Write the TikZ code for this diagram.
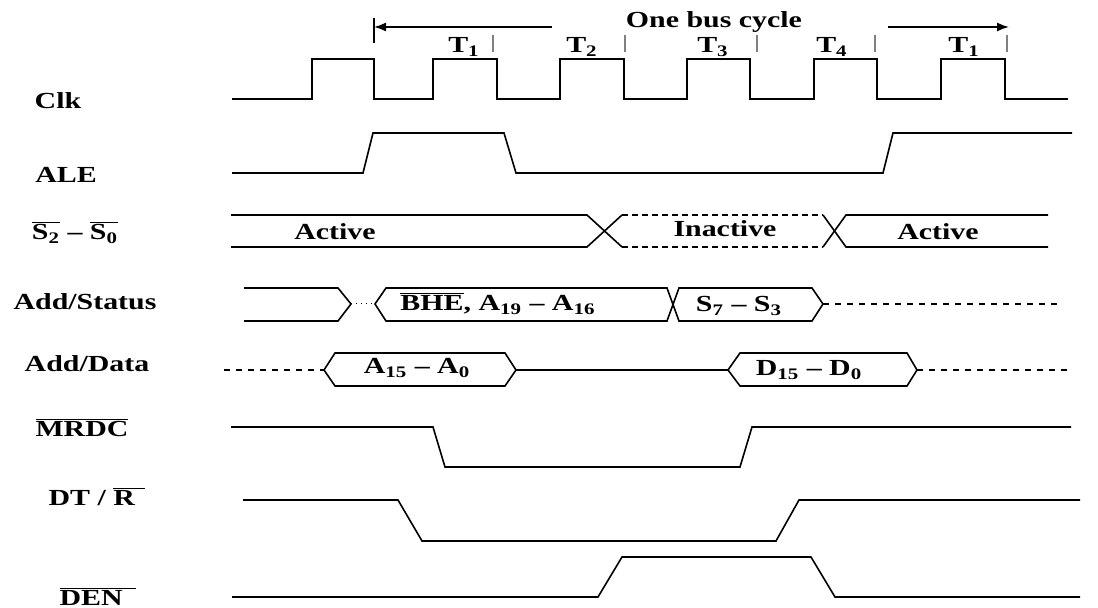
\documentclass[tikz,border=0pt]{standalone}
\usepackage{fontspec}
\setmainfont[FakeStretch=1.3]{Liberation Serif}
\usepackage{tikz}
\usetikzlibrary{arrows.meta}

\newcommand{\ovl}[1]{$\overline{\mbox{#1}}$}

\begin{document}
\begin{tikzpicture}[x=0.5pt, y=-0.5pt, line width=0.8pt,
  every node/.style={font=\bfseries\fontsize{11.5}{13}\selectfont, inner sep=0pt, anchor=base}]
\useasboundingbox (0,0) rectangle (1098,608);

% signal names
\node (clk) at (58,109) {Clk};
\node (ale) at (66,183) {ALE};
\node (sts) at (75,240) {\ovl{S\textsubscript{2}} -- \ovl{S\textsubscript{0}}};
\node (addst) at (85,310) {Add/Status};
\node (adddat) at (87,372) {Add/Data};
\node (mrdc) at (82,437) {\ovl{MRDC}};
\node (dtr) at (97,506) {DT / \ovl{R\hspace{.45em}}};
\node (den) at (98,606) {\ovl{DEN\hspace{.6em}}};

% bus cycle
\draw (374,18) -- (374,43);
\draw[-{Latex[length=6pt,width=4.5pt]}] (552,27) -- (374,27);
\draw[-{Latex[length=6pt,width=4.5pt]}] (888,27) -- (1009,27);
\node (cyc) at (714,28) {One bus cycle};
\draw[gray, line width=0.6pt] (493,35) -- (493,52);
\draw[gray, line width=0.6pt] (625,35) -- (625,52);
\draw[gray, line width=0.6pt] (757,35) -- (757,52);
\draw[gray, line width=0.6pt] (875,35) -- (875,52);
\draw[gray, line width=0.6pt] (1007,35) -- (1007,52);
\node (t1) at (464,53) {T\textsubscript{1}};
\node (t2) at (582,53) {T\textsubscript{2}};
\node (t3) at (713,53) {T\textsubscript{3}};
\node (t4) at (832,53) {T\textsubscript{4}};
\node (t1b) at (964,53) {T\textsubscript{1}};

% Clk
\draw (232,99) -- (312,99) -- (312,59) -- (374,59) -- (374,99) -- (433,99) -- (433,59) -- (497,59) -- (497,99) -- (560,99) -- (560,59) -- (624,59) -- (624,99) -- (687,99) -- (687,59) -- (750,59) -- (750,99) -- (814,99) -- (814,59) -- (877,59) -- (877,99) -- (941,99) -- (941,59) -- (1005,59) -- (1005,99) -- (1068,99);

% ALE
\draw (232,173) -- (363,173) -- (373,133) -- (504,133) -- (516,173) -- (883,173) -- (893,133) -- (1072,133);

% S2 - S0
\draw (231,215) -- (587,215) -- (622,247);
\draw (231,247) -- (587,247) -- (622,215);
\draw[dash pattern=on 3pt off 2pt] (622,215) -- (823,215);
\draw[dash pattern=on 3pt off 2pt] (622,247) -- (823,247);
\draw (823,215) -- (846,247) -- (1048,247);
\draw (823,247) -- (846,215) -- (1048,215);
\node (act1) at (335,240) {Active};
\node (inact) at (725,237) {Inactive};
\node (act2) at (938,240) {Active};

% Add/Status
\draw (244,288) -- (338,288) -- (351,304) -- (338,321) -- (244,321);
\draw[dotted, line width=0.5pt] (351,304) -- (375,304);
\draw (375,304) -- (386,288) -- (667,288) -- (679,321) -- (812,321) -- (823,304) -- (812,288) -- (679,288) -- (667,321) -- (386,321) -- cycle;
\draw[dashed] (823,304) -- (1060,304);
\node (bhe) at (498,311) {\ovl{BHE}, A\textsubscript{19} -- A\textsubscript{16}};
\node (sst) at (739,312) {S\textsubscript{7} -- S\textsubscript{3}};

% Add/Data
\draw[dashed] (224,370) -- (324,370);
\draw (324,370) -- (335,353) -- (505,353) -- (516,370) -- (505,386) -- (335,386) -- cycle;
\draw (516,370) -- (728,370);
\draw (728,370) -- (740,353) -- (907,353) -- (917,370) -- (907,386) -- (740,386) -- cycle;
\draw[dashed] (917,370) -- (1072,370);
\node (aad) at (417,374) {A\textsubscript{15} -- A\textsubscript{0}};
\node (dd) at (809,376) {D\textsubscript{15} -- D\textsubscript{0}};

% MRDC
\draw (231,427) -- (433,427) -- (445,467) -- (740,467) -- (752,427) -- (1071,427);

% DT/R
\draw (243,500) -- (398,500) -- (422,541) -- (776,541) -- (799,500) -- (1080,500);

% DEN
\draw (232,597) -- (598,597) -- (622,557) -- (811,557) -- (835,597) -- (1080,597);
\end{tikzpicture}
\end{document}
